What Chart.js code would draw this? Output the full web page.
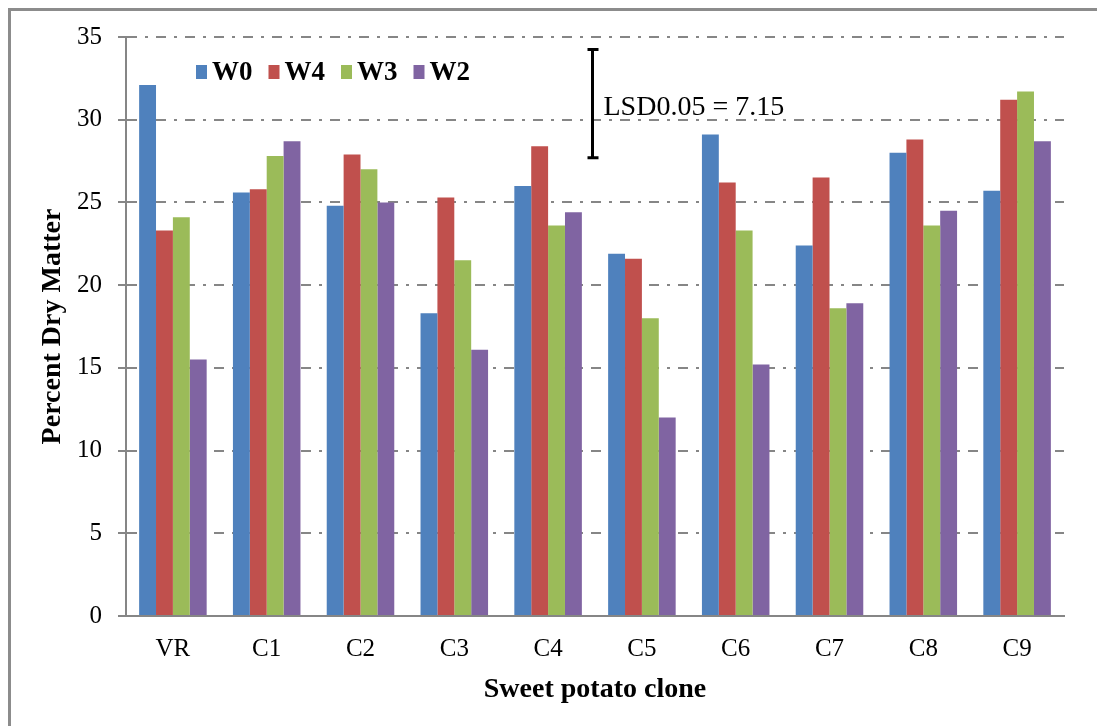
<!DOCTYPE html>
<html>
<head>
<meta charset="utf-8">
<script src="https://cdn.jsdelivr.net/npm/chart.js@4.4.0/dist/chart.umd.min.js"></script>
<style>
  html, body { margin: 0; padding: 0; background: #fff; }
  #wrap { position: relative; width: 1097px; height: 726px; }
</style>
</head>
<body>
<div id="wrap"><canvas id="chDry"></canvas></div>
<script>
// chart data
var clones = ['VR','C1','C2','C3','C4','C5','C6','C7','C8','C9'];
var seriesNames = ['W0','W4','W3','W2'];
var w0 = [32.1, 25.6, 24.8, 18.3, 26.0, 21.9, 29.1, 22.4, 28.0, 25.7];
var w4 = [23.3, 25.8, 27.9, 25.3, 28.4, 21.6, 26.2, 26.5, 28.8, 31.2];
var w3 = [24.1, 27.8, 27.0, 21.5, 23.6, 18.0, 23.3, 18.6, 23.6, 31.7];
var w2 = [15.5, 28.7, 25.0, 16.1, 24.4, 12.0, 15.2, 18.9, 24.5, 28.7];
var yMax = 35, yStep = 5;
var lsdLabel = 'LSD0.05 = 7.15';
var lsdRange = [27.7, 34.25];

// chart colors
var colors = ['#4F81BD','#C0504D','#9BBB59','#8064A2'];
var gridGray = '#868686';
var serif = '"Liberation Serif", "Times New Roman", serif';

var values = [w0, w4, w3, w2];
var datasets = seriesNames.map(function (name, i) {
  return {
    label: name,
    data: values[i],
    backgroundColor: colors[i],
    borderWidth: 0,
    categoryPercentage: 0.72,
    barPercentage: 1.0
  };
});

// outer frame, legend and LSD bar
var extras = {
  id: 'extras',
  beforeDraw: function (chart) {
    var ctx = chart.ctx;
    ctx.save();
    ctx.strokeStyle = '#8c8c8c';
    ctx.lineWidth = 3;
    ctx.beginPath();
    ctx.moveTo(9.5, chart.height);
    ctx.lineTo(9.5, 9.5);
    ctx.lineTo(chart.width, 9.5);
    ctx.stroke();
    ctx.restore();
  },
  afterDraw: function (chart) {
    var ctx = chart.ctx, xs = chart.scales.x, ys = chart.scales.y;
    ctx.save();
    // legend
    ctx.font = 'bold 27px ' + serif;
    ctx.textBaseline = 'middle';
    var lx = 196, ly = 72;
    chart.data.datasets.forEach(function (ds) {
      ctx.fillStyle = ds.backgroundColor;
      ctx.fillRect(lx, ly - 7, 11, 14);
      ctx.fillStyle = '#000';
      ctx.fillText(ds.label, lx + 16, ly + 1);
      lx += 16 + ctx.measureText(ds.label).width + 16;
    });
    // LSD bar
    var bx = Math.round((xs.getPixelForValue(4) + xs.getPixelForValue(5)) / 2 - 3) + 0.5;
    var top = ys.getPixelForValue(lsdRange[1]);
    var bot = ys.getPixelForValue(lsdRange[0]);
    ctx.strokeStyle = '#000';
    ctx.lineWidth = 3;
    ctx.beginPath();
    ctx.moveTo(bx, top); ctx.lineTo(bx, bot);
    ctx.moveTo(bx - 5, top); ctx.lineTo(bx + 6, top);
    ctx.moveTo(bx - 5, bot); ctx.lineTo(bx + 6, bot);
    ctx.stroke();
    ctx.fillStyle = '#000';
    ctx.font = '28px ' + serif;
    ctx.textBaseline = 'alphabetic';
    ctx.fillText(lsdLabel, bx + 11, ys.getPixelForValue(30) - 5);
    ctx.restore();
  }
};

var chDry = document.getElementById('chDry');
if (chDry) {
  new Chart(chDry, {
    type: 'bar',
    data: { labels: clones, datasets: datasets },
    plugins: [extras],
    options: {
      responsive: true,
      maintainAspectRatio: false,
      animation: false,
      layout: { padding: { left: 0, top: 37, right: 33, bottom: 0 } },
      plugins: {
        legend: { display: false },
        tooltip: { enabled: false }
      },
      scales: {
        x: {
          grid: { display: false, drawTicks: false },
          border: { display: true, color: gridGray, width: 2 },
          ticks: { color: '#000', padding: 18, font: { family: serif, size: 25 } },
          title: {
            display: true,
            text: 'Sweet potato clone',
            color: '#000',
            font: { family: serif, size: 28, weight: 'bold' },
            padding: { top: 0, bottom: 19 }
          },
          afterFit: function (scale) { scale.height = 110; }
        },
        y: {
          min: 0,
          max: yMax,
          ticks: { stepSize: yStep, color: '#000', padding: 16, font: { family: serif, size: 25 } },
          grid: {
            color: gridGray,
            lineWidth: 2,
            tickLength: 8,
            tickColor: gridGray,
            tickWidth: 2
          },
          border: { display: true, color: gridGray, width: 2, dash: [10, 8, 3, 8] },
          title: {
            display: true,
            text: 'Percent Dry Matter',
            color: '#000',
            font: { family: serif, size: 28, weight: 'bold' },
            padding: { top: 36, bottom: 0 }
          },
          afterFit: function (scale) { scale.width = 126; }
        }
      }
    }
  });
}
</script>
</body>
</html>
